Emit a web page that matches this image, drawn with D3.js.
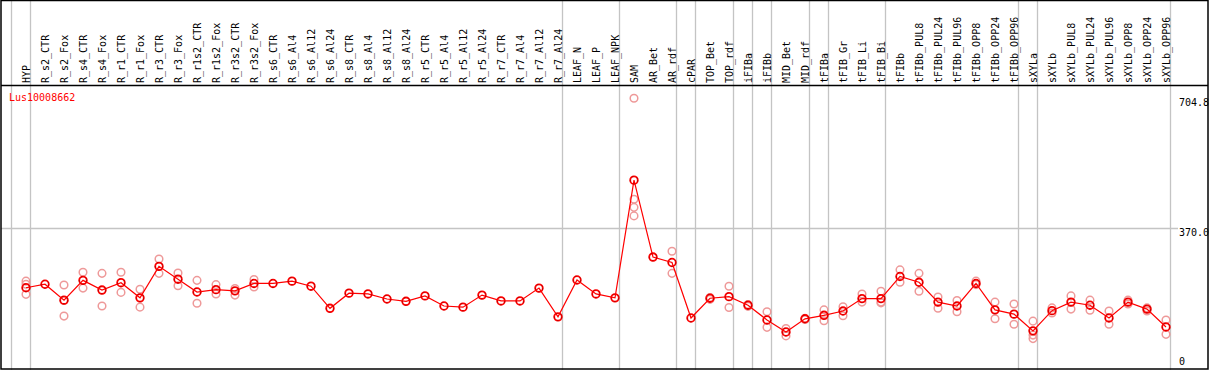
<!DOCTYPE html>
<html>
<head>
<meta charset="utf-8">
<script src="https://cdn.jsdelivr.net/npm/d3@7"></script>
<style>
  body { margin: 0; background: #fff; }
  svg { display: block; }
  text { font-family: "DejaVu Sans Mono", monospace; font-size: 10px; }
</style>
</head>
<body>
<div id="container"></div>
<script>
var w = 1209;
var h = 370;

var gene = "Lus10008662";

var samples = ["HYP","R_s2_CTR","R_s2_Fox","R_s4_CTR","R_s4_Fox","R_r1_CTR","R_r1_Fox","R_r3_CTR","R_r3_Fox",
  "R_r1s2_CTR","R_r1s2_Fox","R_r3s2_CTR","R_r3s2_Fox","R_s6_CTR","R_s6_Al4","R_s6_Al12","R_s6_Al24",
  "R_s8_CTR","R_s8_Al4","R_s8_Al12","R_s8_Al24","R_r5_CTR","R_r5_Al4","R_r5_Al12","R_r5_Al24",
  "R_r7_CTR","R_r7_Al4","R_r7_Al12","R_r7_Al24","LEAF_N","LEAF_P","LEAF_NPK","SAM","AR_Bet","AR_rdf",
  "cPAR","TOP_Bet","TOP_rdf","iFIBa","iFIBb","MID_Bet","MID_rdf","tFIBa","tFIB_Gr","tFIB_Li","tFIB_Bi",
  "tFIBb","tFIBb_PUL8","tFIBb_PUL24","tFIBb_PUL96","tFIBb_OPP8","tFIBb_OPP24","tFIBb_OPP96",
  "sXYLa","sXYLb","sXYLb_PUL8","sXYLb_PUL24","sXYLb_PUL96","sXYLb_OPP8","sXYLb_OPP24","sXYLb_OPP96"];

// mean expression per sample
var means = [217, 226, 185, 236, 211, 230, 191, 272, 239,
  206, 212, 209, 228, 228, 234, 221, 164,
  203, 201, 188, 182, 196, 170, 167, 198,
  183, 183, 216, 142, 237, 201, 191, 494, 296, 282,
  139, 190, 194, 172, 134, 103, 137, 146, 157, 189, 189,
  246, 231, 180, 170, 228, 160, 149,
  106, 158, 180, 172, 139, 180, 162, 116];

// replicate values per sample
var reps = [[234, 226, 200], [], [224, 184, 144], [257, 216], [254, 170], [257, 205], [213, 167], [291, 254], [255, 222],
  [236, 177], [225, 201], [215, 198], [238, 219], [], [], [], [],
  [], [], [], [], [], [], [], [],
  [], [], [], [], [], [], [], [704.8, 445, 424, 402], [], [311, 254],
  [], [192, 187], [221, 166], [174, 169], [155, 115], [112, 93], [138, 135], [160, 132], [168, 145], [201, 180], [208, 180, 178],
  [263, 231], [254, 208], [193, 164], [184, 155], [234, 225], [180, 137], [175, 123],
  [131, 95, 86], [165, 152], [196, 162], [185, 159], [157, 123], [185, 175], [165, 157], [134, 97]];

// column index where a group separator is drawn
var separators = [0, 1, 29, 32, 35, 36, 38, 39, 40, 42, 43, 46, 53, 54, 61];

var yTicks = [0, 370.0, 704.8];

var left = 11, colW = 19, headerY = 85;

var svg = d3.select("div#container")
    .append("svg")
    .attr("width", w)
    .attr("height", h);

var x = d3.scaleLinear().domain([0, samples.length]).range([left, left + colW * samples.length]);
var y = d3.scaleLinear().domain([0, 704.8]).range([372, 98.3]);
var px = i => x(i) + 15;

// group separators
svg.append("g")
  .selectAll("line")
  .data(separators)
  .enter()
  .append("line")
    .attr("x1", d => Math.round(x(d)) + 0.5)
    .attr("x2", d => Math.round(x(d)) + 0.5)
    .attr("y1", 0)
    .attr("y2", h)
    .attr("stroke", "#c4c4c4")
    .attr("stroke-width", 1.3);

// grid line at 370
svg.append("line")
    .attr("x1", 1).attr("x2", 1178)
    .attr("y1", Math.round(y(370)) + 0.5).attr("y2", Math.round(y(370)) + 0.5)
    .attr("stroke", "#c4c4c4")
    .attr("stroke-width", 1.3);

// borders
svg.append("rect")
    .attr("x", 1).attr("y", 0.5)
    .attr("width", 1207).attr("height", 368.5)
    .attr("fill", "none")
    .attr("stroke", "#000")
    .attr("stroke-width", 1.5);
svg.append("line")
    .attr("x1", 1).attr("x2", 1208)
    .attr("y1", headerY + 0.5).attr("y2", headerY + 0.5)
    .attr("stroke", "#000")
    .attr("stroke-width", 1.5);

// column labels
svg.append("g")
  .selectAll("text")
  .data(samples)
  .enter()
  .append("text")
    .attr("transform", (d, i) => `translate(${px(i) + 3.5},83) rotate(-90)`)
    .text(d => d);

// y labels
svg.append("g")
  .selectAll("text")
  .data(yTicks)
  .enter()
  .append("text")
    .attr("x", 1179)
    .attr("y", d => d == 0 ? 365 : y(d) + 8)
    .text(d => d == 0 ? "0" : d.toFixed(1));

svg.append("text")
    .attr("x", 9).attr("y", 101)
    .attr("fill", "red")
    .text(gene);

// replicates
var repPts = [];
reps.forEach((r, i) => r.forEach(v => repPts.push([i, v])));
svg.append("g")
  .selectAll("circle")
  .data(repPts)
  .enter()
  .append("circle")
    .attr("cx", d => px(d[0]))
    .attr("cy", d => y(d[1]))
    .attr("r", 3.8)
    .attr("fill", "none")
    .attr("stroke", "#ee9999")
    .attr("stroke-width", 1.5);

// mean line
var line = d3.line().x((d, i) => px(i)).y(d => y(d));
svg.append("path")
    .datum(means)
    .attr("d", line)
    .attr("fill", "none")
    .attr("stroke", "red")
    .attr("stroke-width", 1.2);

var g = svg.append("g")
  .selectAll("g")
  .data(means)
  .enter()
  .append("g");
g.append("circle")
    .attr("cx", (d, i) => px(i))
    .attr("cy", d => y(d))
    .attr("r", 3.8)
    .attr("fill", "none")
    .attr("stroke", "red")
    .attr("stroke-width", 1.8);
g.append("circle")
    .attr("cx", (d, i) => px(i))
    .attr("cy", d => y(d))
    .attr("r", 3.8)
    .attr("fill", "none")
    .attr("stroke", "#000")
    .attr("stroke-opacity", 0.45)
    .attr("stroke-width", 0.6)
    .attr("stroke-dasharray", "2,3");
</script>
</body>
</html>
